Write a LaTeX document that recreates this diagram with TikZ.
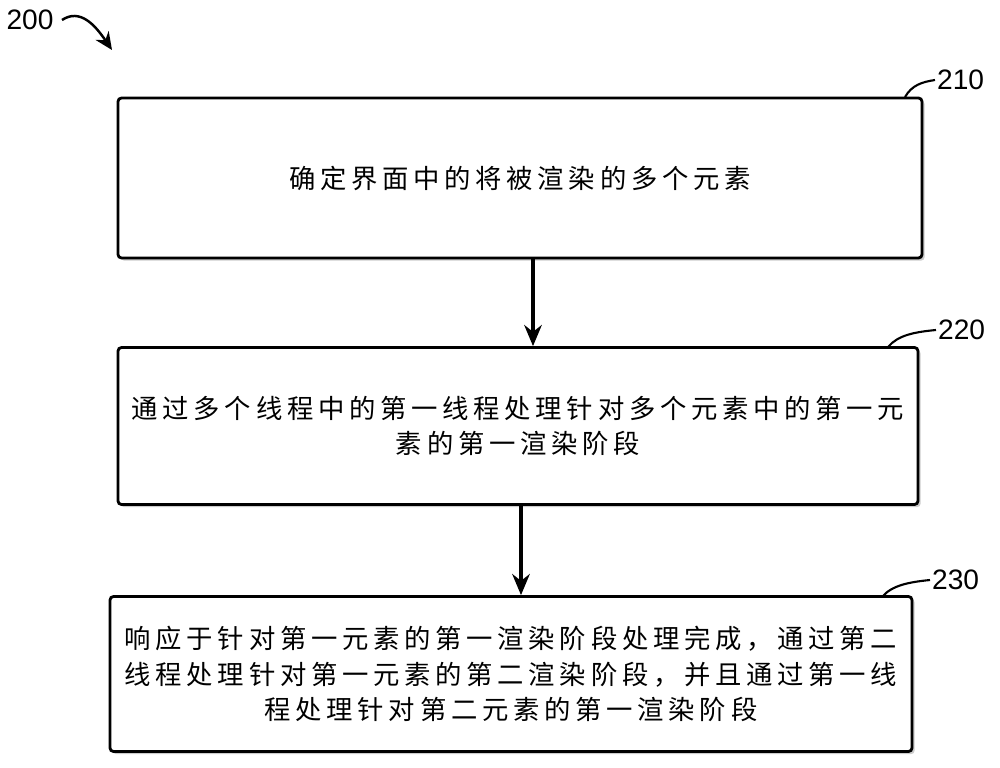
\documentclass[tikz,border=0pt]{standalone}
\usepackage{fontspec}
\setmainfont{Liberation Sans}
\newfontfamily\cjk[LetterSpace=18]{Noto Sans CJK SC}
\usetikzlibrary{arrows.meta,shadows}
\begin{document}
\begin{tikzpicture}[x=0.02cm,y=-0.02cm,
  stepbox/.style={draw,line width=1.6pt,rounded corners=2pt,fill=white,
    drop shadow={shadow xshift=1.5pt,shadow yshift=-1.5pt,opacity=0.4}},
  txt/.style={font=\cjk\fontsize{15}{20.4}\selectfont,align=center},
  lab/.style={font=\fontsize{16}{18}\selectfont,inner sep=1pt},
  flow/.style={line width=1.8pt,-{Stealth[length=12pt,width=10pt]}},
  lead/.style={line width=1.2pt}]
\useasboundingbox (0,0) rectangle (1000,767);
\node[stepbox,minimum width=804*0.02cm,minimum height=160*0.02cm] (b1) at (520,178) {};
\node[txt] (t1) at (b1) {确定界面中的将被渲染的多个元素};
\node[stepbox,minimum width=800*0.02cm,minimum height=157*0.02cm] (b2) at (518,426) {};
\node[txt] (t2) at (b2) {通过多个线程中的第一线程处理针对多个元素中的第一元\\素的第一渲染阶段};
\node[stepbox,minimum width=802*0.02cm,minimum height=155*0.02cm] (b3) at (511,674) {};
\node[txt] (t3) at (b3) {响应于针对第一元素的第一渲染阶段处理完成，通过第二\\线程处理针对第一元素的第二渲染阶段，并且通过第一线\\程处理针对第二元素的第一渲染阶段};
\draw[flow] (b1.south -| 533,0) -- (b2.north -| 533,0);
\draw[flow] (b2.south -| 521,0) -- (b3.north -| 521,0);
\node[lab] (l200) at (30,20) {200};
\coordinate (a0) at (62,20);
\coordinate (a1) at (112,50);
\draw[line width=1.4pt,-{Stealth[length=10pt,width=9pt]}] (a0) .. controls (80,8) and (95,25) .. (a1);
\node[lab,anchor=west] (l210) at (935,80) {210};
\coordinate (c1) at (905,97);
\draw[lead] (c1) .. controls (912,85) and (922,82) .. (l210.west);
\node[lab,anchor=west] (l220) at (936,330) {220};
\coordinate (c2) at (888,347);
\draw[lead] (c2) .. controls (898,335) and (915,332) .. (l220.west);
\node[lab,anchor=west] (l230) at (930,580) {230};
\coordinate (c3) at (882,597);
\draw[lead] (c3) .. controls (892,585) and (910,582) .. (l230.west);
\end{tikzpicture}
\end{document}
